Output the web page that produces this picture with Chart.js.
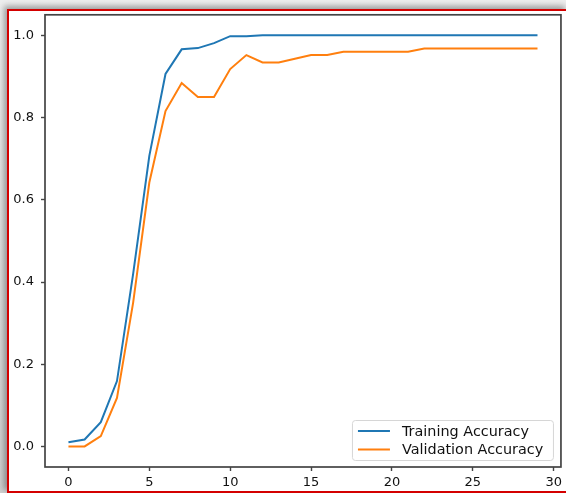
<!DOCTYPE html>
<html>
<head>
<meta charset="utf-8">
<script src="https://cdn.jsdelivr.net/npm/chart.js@4.4.1/dist/chart.umd.min.js"></script>
<style>
  html, body { margin: 0; padding: 0; background: #fff; }
  #page { position: relative; width: 566px; height: 493px; overflow: hidden;
          background: linear-gradient(#eeeeee, #cfcfcf); }
  #frame { position: absolute; left: 7px; top: 9px; width: 559px; height: 480px;
           background: #fff; border-top: 2px solid #d40000; border-left: 2px solid #d40000;
           border-bottom: 2px solid #d40000;
           box-shadow: -3px -3px 6px rgba(0,0,0,0.35); }
  #wrap { position: absolute; left: 0; top: 0; width: 566px; height: 493px; }
</style>
</head>
<body>
<div id="page">
<div id="frame"></div>
<div id="wrap"><canvas id="accChart" width="566" height="493"></canvas></div>
</div>
<script>
// epochs and accuracy curves
const epochs = [0, 1, 2, 3, 4, 5, 6, 7, 8, 9, 10, 11, 12, 13, 14,
                15, 16, 17, 18, 19, 20, 21, 22, 23, 24, 25, 26, 27, 28, 29];
const trainAcc = [0.010, 0.017, 0.059, 0.159, 0.42, 0.707, 0.906, 0.966, 0.969, 0.981,
                  0.998, 0.998, 1.0, 1.0, 1.0, 1.0, 1.0, 1.0, 1.0, 1.0,
                  1.0, 1.0, 1.0, 1.0, 1.0, 1.0, 1.0, 1.0, 1.0, 1.0];
const valAcc = [0.0, 0.0, 0.025, 0.118, 0.35, 0.642, 0.816, 0.884, 0.85, 0.85,
                0.918, 0.952, 0.934, 0.934, 0.943, 0.952, 0.952, 0.96, 0.96, 0.96,
                0.96, 0.96, 0.968, 0.968, 0.968, 0.968, 0.968, 0.968, 0.968, 0.968];
const xTicks = [0, 5, 10, 15, 20, 25, 30];
const yTicks = [0.0, 0.2, 0.4, 0.6, 0.8, 1.0];

const FONT = "'DejaVu Sans', sans-serif";

// box around the plot + legend in the lower right corner
const axesBox = {
  id: "axesBox",
  afterDraw(chart) {
    const { ctx, chartArea: a } = chart;
    ctx.save();
    ctx.strokeStyle = "#444";
    ctx.lineWidth = 1.7;
    ctx.strokeRect(a.left, a.top, a.right - a.left, a.bottom - a.top);

    // legend
    const bx = a.right - 209, by = a.bottom - 47, bw = 201, bh = 40;
    ctx.fillStyle = "rgba(255,255,255,0.85)";
    ctx.strokeStyle = "#d6d6d6";
    ctx.lineWidth = 1;
    ctx.beginPath();
    ctx.roundRect(bx + 0.5, by + 0.5, bw, bh, 3);
    ctx.fill();
    ctx.stroke();
    ctx.font = "14.4px " + FONT;
    ctx.textBaseline = "middle";
    chart.data.datasets.forEach((ds, i) => {
      const y = by + 11 + i * 18.6;
      ctx.strokeStyle = ds.borderColor;
      ctx.lineWidth = 2;
      ctx.beginPath();
      ctx.moveTo(bx + 6, y);
      ctx.lineTo(bx + 38, y);
      ctx.stroke();
      ctx.fillStyle = "#111";
      ctx.fillText(ds.label, bx + 50, y + 1);
    });
    ctx.restore();
  }
};

new Chart(document.getElementById("accChart"), {
  type: "line",
  data: {
    datasets: [
      {
        label: "Training Accuracy",
        data: epochs.map((e, i) => ({ x: e, y: trainAcc[i] })),
        borderColor: "#1f77b4",
        borderWidth: 2,
        pointRadius: 0,
        tension: 0,
        fill: false
      },
      {
        label: "Validation Accuracy",
        data: epochs.map((e, i) => ({ x: e, y: valAcc[i] })),
        borderColor: "#ff7f0e",
        borderWidth: 2,
        pointRadius: 0,
        tension: 0,
        fill: false
      }
    ]
  },
  options: {
    responsive: false,
    animation: false,
    layout: { padding: { left: 0, top: 14, right: 4, bottom: 0 } },
    plugins: { legend: { display: false }, tooltip: { enabled: false } },
    scales: {
      x: {
        type: "linear",
        min: -1.45,
        max: 30.45,
        afterBuildTicks: (s) => { s.ticks = xTicks.map(v => ({ value: v })); },
        afterFit: (s) => { s.height = 26; },
        grid: { drawOnChartArea: false, drawTicks: true, tickLength: 4, tickColor: "#444", tickWidth: 1.4 },
        border: { display: false },
        ticks: { color: "#111", font: { family: FONT, size: 13 }, padding: 4, maxRotation: 0 }
      },
      y: {
        min: -0.05,
        max: 1.05,
        afterBuildTicks: (s) => { s.ticks = yTicks.map(v => ({ value: v })); },
        afterFit: (s) => { s.width = 45; },
        grid: { drawOnChartArea: false, drawTicks: true, tickLength: 4, tickColor: "#444", tickWidth: 1.4 },
        border: { display: false },
        ticks: {
          color: "#111",
          font: { family: FONT, size: 13 },
          padding: 7,
          callback: (v) => v.toFixed(1)
        }
      }
    }
  },
  plugins: [axesBox]
});
</script>
</body>
</html>
